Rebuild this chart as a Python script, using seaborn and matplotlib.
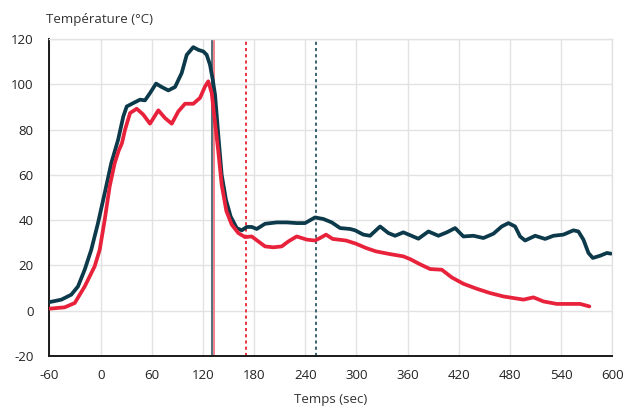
import matplotlib
matplotlib.use("Agg")
import matplotlib.pyplot as plt
import seaborn as sns
import pandas as pd

# Temperature readings (time in s, temperature in °C)
dark_t = [-60, -46, -34.4, -26.6, -18.7, -11, -3.1, 4.8, 12.5, 20.5, 26.6, 30.6, 38.3, 46.2,
          52, 57.9, 65, 71.6, 79.4, 87.3, 95.1, 101, 108.7, 114.6, 120.5, 124.4, 128.3, 131.5,
          134.2, 138, 142, 147, 152.5, 159.6, 165.5, 171.4, 177.2, 183.1, 192.9, 206.6, 218.3,
          230, 239.8, 251.5, 261.3, 271.1, 280.9, 292.6, 298.5, 308.2, 316, 327.8, 337.5, 345.4,
          355.1, 364, 372.7, 384.5, 396.2, 406, 415.8, 425.5, 437.3, 449, 460.7, 470.5, 478.3,
          486.2, 492, 497.9, 509.7, 521.4, 531.1, 542.8, 554.6, 560.4, 566.3, 572.2, 577.3,
          586, 593.8, 598.5]
dark_v = [3.8, 4.9, 7.1, 10.7, 18.1, 26.9, 38.7, 52, 65.2, 75.5, 85.8, 90.2, 91.7, 93.2,
          92.9, 96.1, 100.3, 98.8, 97.3, 98.8, 105, 113, 116.4, 115.2, 114.5, 113, 108.6, 102,
          95.4, 77.7, 60, 49, 41.6, 36.5, 35.5, 37, 37, 36.1, 38.4, 39, 39,
          38.7, 38.7, 41.2, 40.5, 39, 36.5, 36.1, 35.5, 33.6, 33.1, 37.2, 34.3, 33.1,
          34.6, 33.2, 31.8, 35, 33.1, 34.6, 36.5, 32.8, 33.1, 32.1, 34, 37.2, 38.7,
          37.2, 32.8, 31, 33.1, 31.7, 33.1, 33.6, 35.5, 35, 31.4, 25.5, 23.3,
          24.3, 25.5, 25.2]

red_t = [-60, -42.2, -30.4, -18.7, -7, -1.1, 4.8, 10.6, 16.5, 21, 25, 28.6, 34.5, 42.3, 50,
         57.9, 67.7, 75.5, 83.4, 91.1, 99, 108.7, 116.6, 122.4, 126.3, 130.3, 134.2, 138, 142,
         147.5, 153.8, 161.5, 169.4, 177.2, 185, 192.9, 202.6, 212.4, 220.2, 230, 241.8, 251.5,
         257.4, 264.4, 272.2, 287.8, 299.5, 311.3, 323, 339.5, 355.1, 363, 374.7, 386.5, 400.2,
         411.9, 425.5, 441.2, 456.8, 472.5, 484.2, 496, 507.7, 519.4, 535, 550.7, 562.5, 573.3]
red_v = [0.9, 1.5, 3.4, 10.7, 19.6, 26.9, 40.2, 54.9, 65.2, 70.5, 74, 79.9, 87.3, 89.2, 86.6,
         82.6, 88.5, 85.1, 82.6, 88, 91.4, 91.4, 94, 99, 101.3, 96.1, 82.9, 70.4, 55.6,
         44, 38, 34.3, 32.5, 32.8, 30.6, 28.4, 28, 28.4, 30.6, 32.8, 31.4, 31,
         32.1, 33.6, 31.7, 31, 29.6, 27.7, 26.2, 25, 24, 22.8, 20.5, 18.4, 18.1,
         14.7, 11.9, 9.7, 7.8, 6.3, 5.6, 4.9, 5.9, 4.1, 3, 3, 3, 1.9]

x_ticks = [-60, 0, 60, 120, 180, 240, 300, 360, 420, 480, 540, 600]
y_ticks = [-20, 0, 20, 40, 60, 80, 100, 120]

DARK = "#0c3a4a"
RED = "#e8223b"

sns.set_theme(style="white")
plt.rcParams["font.family"] = ["Open Sans", "DejaVu Sans"]

fig = plt.figure(figsize=(6.24, 4.07), dpi=100)
ax = fig.add_axes([0.0793, 0.1253, 0.9017, 0.7789])

df_dark = pd.DataFrame({"t": dark_t, "v": dark_v})
df_red = pd.DataFrame({"t": red_t, "v": red_v})

ax.set_xlim(-60, 600)
ax.set_ylim(-20, 120)
ax.set_xticks(x_ticks)
ax.set_yticks(y_ticks)
ax.grid(True, color="#e2e2e2", linewidth=1.0)
ax.set_axisbelow(True)

# Event markers
ax.axvline(131, color="#44646f", linewidth=1.3, zorder=2)
ax.axvline(132.8, color="#f07a84", linewidth=1.3, zorder=2)
ax.axvline(170, color="#e8343f", linewidth=1.4, linestyle=(0, (1.6, 1.6)), zorder=2)
ax.axvline(253, color="#3b6170", linewidth=1.4, linestyle=(0, (1.6, 1.6)), zorder=2)

line_kw = dict(linewidth=2.7, zorder=3, solid_joinstyle="round", solid_capstyle="round")
sns.lineplot(data=df_dark, x="t", y="v", ax=ax, color=DARK, **line_kw)
sns.lineplot(data=df_red, x="t", y="v", ax=ax, color=RED, **line_kw)

for s in ["top", "right"]:
    ax.spines[s].set_color("#e2e2e2")
    ax.spines[s].set_linewidth(1.0)
for s in ["left", "bottom"]:
    ax.spines[s].set_color("#1a1a1a")
    ax.spines[s].set_linewidth(1.4)

ax.tick_params(axis="both", length=0, labelsize=9.5, labelcolor="#222222")
ax.tick_params(axis="x", pad=9)
ax.tick_params(axis="y", pad=11.5)
ax.set_xticklabels([str(v) for v in x_ticks])
ax.set_yticklabels([str(v) for v in y_ticks])

ax.set_xlabel("Temps (sec)", fontsize=9.5, color="#333333", labelpad=8)
ax.set_ylabel("")
fig.text(46 / 624, 1 - 19 / 407, "Température (°C)", fontsize=9.5, color="#333333",
         ha="left", va="center")

fig.savefig("out.png", dpi=100)
